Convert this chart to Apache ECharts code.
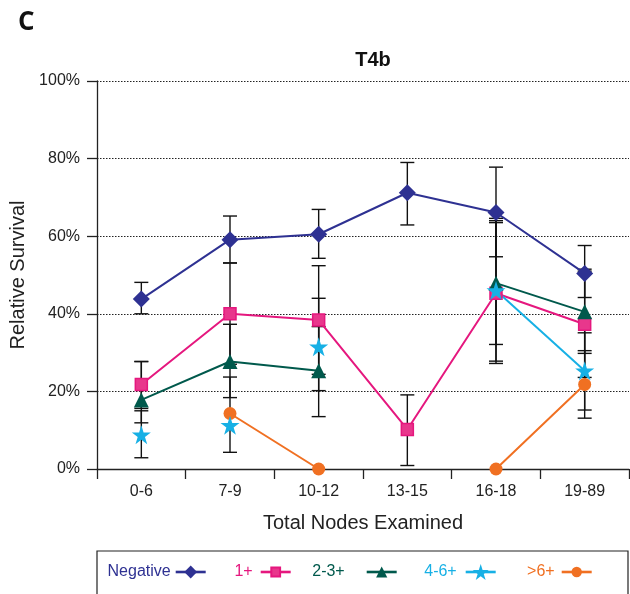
<!DOCTYPE html>
<html>
<head>
<meta charset="utf-8">
<script src="https://cdn.jsdelivr.net/npm/echarts@6/dist/echarts.min.js"></script>
<style>html,body{margin:0;padding:0;background:#fff;}#c{width:630px;height:594px;}</style>
</head>
<body>
<div id="c"></div>
<script>
// ---- data ----
const categories = ['0-6', '7-9', '10-12', '13-15', '16-18', '19-89'];
const yTicks = [0, 20, 40, 60, 80, 100];

const negative     = [43.8, 59.1, 60.5, 71.2, 66.1, 50.4];
const negativeLow  = [40.0, 53.1, 54.3, 62.9, 54.7, 44.2];
const negativeHigh = [48.1, 65.2, 66.9, 79.0, 77.8, 57.6];

const plus1     = [21.8, 40.0, 38.4, 10.2, 45.3, 37.3];
const plus1Low  = [15.6, 27.0, 24.4, 0.9, 27.2, 23.6];
const plus1High = [27.7, 53.1, 52.4, 19.1, 63.5, 51.0];

const plus23     = [17.8, 27.7, 25.3, null, 47.9, 40.5];
const plus23Low  = [11.9, 18.4, 13.5, null, 32.1, 29.8];
const plus23High = [27.7, 37.3, 36.7, null, 64.6, 51.5];

const plus46     = [8.8, 11.3, 31.5, null, 46.0, 25.3];
const plus46Low  = [2.9, null, 20.2, null, 27.8, 15.2];
const plus46High = [15.0, null, 44.0, null, 64.0, 35.1];
const plus46Joined = [false, false, false, false, true, true];

const plus6     = [null, 14.3, 0, null, 0, 21.8];
const plus6Low  = [null, 4.3, null, null, null, 13.1];
const plus6High = [null, 23.7, null, null, null, 30.5];

// ---- styling ----
const COL = {neg:'#2e3192', p1:'#e5177e', p23:'#00594c', p46:'#17b0e5', p6:'#f07022'};
const STAR = 'path://M50,0 L61.2,34.5 L97.6,34.5 L68.2,55.9 L79.4,90.5 L50,69.1 L20.6,90.5 L31.8,55.9 L2.4,34.5 L38.8,34.5 Z';
const FONT = '"Liberation Sans", Arial, sans-serif';

function errData(lo, hi) {
  const out = [];
  for (let i = 0; i < lo.length; i++) {
    if (lo[i] != null && hi[i] != null) out.push([i, lo[i], hi[i]]);
  }
  return out;
}
const allErr = [].concat(
  errData(negativeLow, negativeHigh),
  errData(plus1Low, plus1High),
  errData(plus23Low, plus23High),
  errData(plus46Low, plus46High),
  errData(plus6Low, plus6High)
);

function lineSeries(name, data, color, symbol, size, extra) {
  return Object.assign({
    name: name, type: 'line', data: data, color: color,
    symbol: symbol, symbolSize: size, connectNulls: false,
    lineStyle: {color: color, width: 2},
    itemStyle: {color: color},
    z: 3, animation: false
  }, extra || {});
}

const chart = echarts.init(document.getElementById('c'), null, {renderer: 'canvas'});

function legendAt(name, color, right, gap, h) {
  const box = Math.max(h, 16);
  const vpad = box - 16;
  return {
    data: [{name: name, textStyle: {color: color}}],
    right: right, top: 572 - box / 2, padding: 0, align: 'right', orient: 'horizontal',
    itemWidth: 30, itemHeight: h, selectedMode: false,
    lineStyle: {width: 2.6},
    textStyle: {fontFamily: FONT, fontSize: 16, lineHeight: 16, color: color, padding: [vpad, gap, 0, 0]}
  };
}

chart.setOption({
  animation: false,
  title: {
    text: 'T4b', left: 368, top: 45, textAlign: 'center',
    textStyle: {fontFamily: FONT, fontSize: 20, fontWeight: 'bold', color: '#111'}
  },
  legend: [
    legendAt('Negative', COL.neg, 423, 0, 16),
    legendAt('1+', COL.p1, 338, 3, 11),
    legendAt('2-3+', COL.p23, 232, 17, 14),
    legendAt('4-6+', COL.p46, 133, 4, 20),
    legendAt('>6+', COL.p6, 37, 2, 13)
  ],
  graphic: [
    {type: 'text', left: 18, top: 10, style: {text: 'C', font: 'bold 26px "Open Sans", sans-serif', fill: '#111'}},
    {type: 'rect', shape: {x: 97, y: 551, width: 531, height: 60}, style: {fill: 'none', stroke: '#222', lineWidth: 1.2}, silent: true}
  ],
  grid: {left: 97, right: 1, top: 81, bottom: 125, containLabel: false},
  xAxis: {
    type: 'category', data: categories, boundaryGap: true,
    name: 'Total Nodes Examined', nameLocation: 'middle', nameGap: 44,
    nameTextStyle: {fontFamily: FONT, fontSize: 20, color: '#222'},
    axisLine: {lineStyle: {color: '#222', width: 1.3}},
    axisTick: {show: true, length: 10, alignWithLabel: false, lineStyle: {color: '#222', width: 1.3}},
    axisLabel: {fontFamily: FONT, fontSize: 16, color: '#222', margin: 15},
    splitLine: {show: false}
  },
  yAxis: {
    type: 'value', min: yTicks[0], max: yTicks[yTicks.length - 1], interval: 20,
    name: 'Relative Survival', nameLocation: 'middle', nameGap: 67, nameRotate: 90,
    nameTextStyle: {fontFamily: FONT, fontSize: 20, color: '#222'},
    axisLine: {show: true, lineStyle: {color: '#222', width: 1.3}},
    axisTick: {show: true, length: 10, lineStyle: {color: '#222', width: 1.3}},
    axisLabel: {fontFamily: FONT, fontSize: 16, color: '#222', margin: 17, formatter: '{value}%'},
    splitLine: {show: true, lineStyle: {color: '#222', type: [1.5, 1.5], width: 1}}
  },
  series: [
    {
      name: 'err', type: 'custom', data: allErr, z: 2, silent: true,
      renderItem: function (params, api) {
        const x = api.value(0);
        const lo = api.coord([x, api.value(1)]);
        const hi = api.coord([x, api.value(2)]);
        const hw = 7;
        const st = {stroke: '#111', lineWidth: 1.4, fill: 'none'};
        return {
          type: 'group',
          children: [
            {type: 'line', shape: {x1: lo[0], y1: lo[1], x2: hi[0], y2: hi[1]}, style: st},
            {type: 'line', shape: {x1: lo[0] - hw, y1: lo[1], x2: lo[0] + hw, y2: lo[1]}, style: st},
            {type: 'line', shape: {x1: hi[0] - hw, y1: hi[1], x2: hi[0] + hw, y2: hi[1]}, style: st}
          ]
        };
      },
      encode: {x: 0, y: [1, 2]}
    },
    lineSeries('>6+', plus6, COL.p6, 'circle', 13),
    lineSeries('1+', plus1, COL.p1, 'rect', 12, {itemStyle: {color: '#e8378c', borderColor: COL.p1, borderWidth: 1.5}}),
    lineSeries('2-3+', plus23, COL.p23, 'triangle', 15),
    lineSeries('4-6+', plus46.map((v, i) => plus46Joined[i] ? v : null), COL.p46, STAR, 19),
    lineSeries('4-6+ points', plus46.map((v, i) => plus46Joined[i] ? null : v), COL.p46, STAR, 19,
      {lineStyle: {width: 0, opacity: 0}}),
    lineSeries('Negative', negative, COL.neg, 'diamond', 17)
  ]
});
</script>
</body>
</html>
